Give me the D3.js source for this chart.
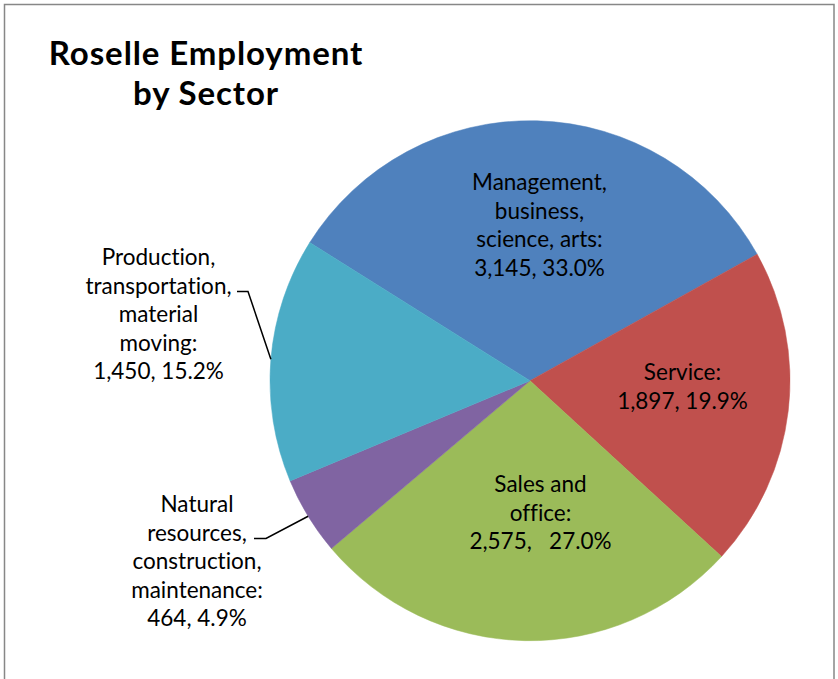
<!DOCTYPE html>
<html><head><meta charset="utf-8">
<script src="https://cdn.jsdelivr.net/npm/d3@7"></script>
<style>body{margin:0;background:#fff} svg{display:block} text{font-variant-ligatures:none;font-feature-settings:"liga" 0}</style>
</head><body>
<svg id="chart" width="838" height="679"></svg>
<script>
// ---- data ----
const categories = ["Management, business, science, arts", "Service", "Sales and office", "Natural resources, construction, maintenance", "Production, transportation, material moving"];
const values = [3145, 1897, 2575, 464, 1450];
const percents = ["33.0%", "19.9%", "27.0%", "4.9%", "15.2%"];
const nameLines = [
  ["Management,", "business,", "science, arts:"],
  ["Service:"],
  ["Sales and", "office:"],
  ["Natural", "resources,", "construction,", "maintenance:"],
  ["Production,", "transportation,", "material", "moving:"]
];
const valueSep = [", ", ", ", ",   ", ", ", ", "];
const colors = ["#4F81BD", "#C0504D", "#9BBB59", "#8064A2", "#4BACC6"];
const title = ["Roselle Employment", "by Sector"];

// ---- layout ----
const W = 838, H = 679;
const cx = 530, cy = 380.7, R = 260;
const startDeg = -57.9;
const lineH = 28.5;
const labelFont = "Lato, 'Open Sans', sans-serif";
const labelPos = [
  {x: 539.5, y: 190},
  {x: 682.5, y: 380},
  {x: 540.5, y: 492},
  {x: 197, y: 512, leader: {x0: 254, x1: 266, line: 1}},
  {x: 158.5, y: 265, leader: {x0: 237, x1: 248, line: 1}}
];

const svg = d3.select("#chart");
svg.append("rect").attr("x", 4.5).attr("y", 4.5).attr("width", 829.5).attr("height", H + 20)
  .attr("fill", "#fff").attr("stroke", "#878787").attr("stroke-width", 1.5);

const data = categories.map((c, i) => ({name: c, value: values[i], pct: percents[i], i}));
const pie = d3.pie().value(d => d.value).sort(null)
  .startAngle(startDeg * Math.PI / 180).endAngle(startDeg * Math.PI / 180 + 2 * Math.PI);
const arcs = pie(data);
const arc = d3.arc().innerRadius(0).outerRadius(R);

const g = svg.append("g").attr("transform", `translate(${cx},${cy})`);
g.selectAll("path").data(arcs).join("path")
  .attr("d", arc).attr("fill", d => colors[d.data.i])
  .attr("stroke", d => colors[d.data.i]).attr("stroke-width", 0.5);

// title
svg.append("g").selectAll("text").data(title).join("text")
  .attr("x", 206).attr("y", (d, i) => 65 + i * 40)
  .attr("text-anchor", "middle")
  .attr("font-family", labelFont).attr("font-weight", "bold").attr("font-size", 33)
  .attr("letter-spacing", 0.9)
  .attr("fill", "#000").text(d => d);

// labels
const fmt = d3.format(",");
arcs.forEach((a) => {
  const i = a.data.i;
  const lines = nameLines[i].concat([fmt(values[i]) + valueSep[i] + percents[i]]);
  const p = labelPos[i];
  const t = svg.append("text").attr("text-anchor", "middle")
    .attr("font-family", labelFont).attr("font-size", 22.5).attr("fill", "#000")
    .attr("xml:space", "preserve").style("white-space", "pre");
  lines.forEach((ln, j) => {
    t.append("tspan").attr("x", p.x).attr("y", p.y + j * lineH).text(ln);
  });
  if (p.leader) {
    const mid = (a.startAngle + a.endAngle) / 2;
    const ex = cx + R * Math.sin(mid), ey = cy - R * Math.cos(mid);
    const ly = p.y + p.leader.line * lineH - 2;
    svg.append("polyline")
      .attr("points", `${p.leader.x0},${ly} ${p.leader.x1},${ly} ${ex},${ey}`)
      .attr("fill", "none").attr("stroke", "#000").attr("stroke-width", 1.5);
  }
});
</script>
</body></html>
